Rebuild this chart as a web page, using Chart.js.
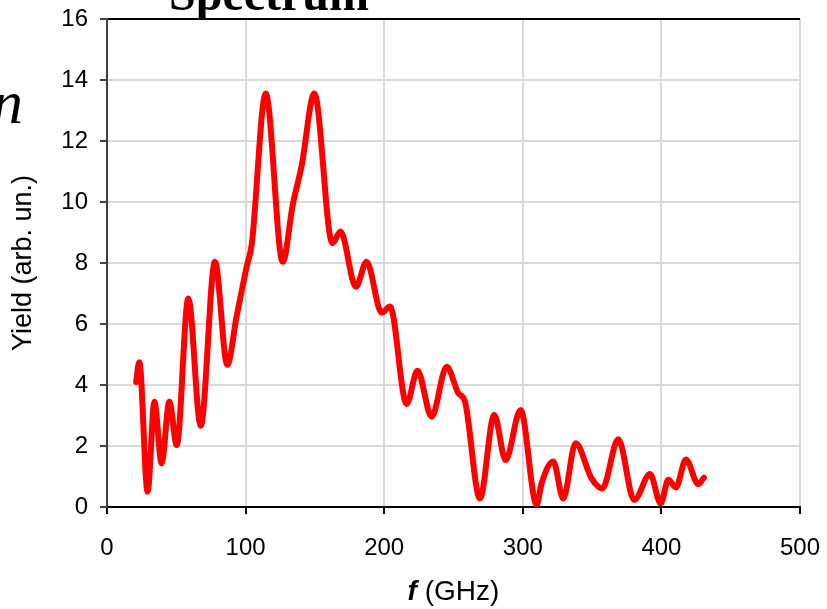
<!DOCTYPE html>
<html>
<head>
<meta charset="utf-8">
<script src="https://cdn.jsdelivr.net/npm/chart.js@4/dist/chart.umd.min.js"></script>
<style>
  html, body { margin: 0; padding: 0; background: #fff; }
  #wrap { width: 827px; height: 609px; position: relative; }
</style>
</head>
<body>
<div id="wrap"><canvas id="spectrumChart"></canvas></div>
<script>
// valores
const freqGHz = [21, 23.3, 29.3, 34.2, 39.4, 45, 50.3, 58.7, 67.6, 77.9,
  86.8, 93.5, 100.8, 104.4, 114.5, 126.8, 134, 140.5, 149.6, 162.6,
  168.5, 179.6, 187.3, 198.2, 204.2, 216.2, 224, 234.2, 245.1, 253.5,
  258.3, 269.1, 279.4, 287.6, 298.4, 310, 313.6, 322, 329.2, 338.1,
  349.6, 357.4, 368.9, 380.4, 391.8, 399.5, 405, 410.5, 417.7, 426.6,
  430.7];
const yieldArb = [4.1, 4.75, 0.5, 3.45, 1.43, 3.45, 2.03, 6.84, 2.66, 8.04,
  4.66, 6.24, 7.88, 8.6, 13.56, 8.04, 9.9, 11.2, 13.56, 8.65,
  9.03, 7.22, 8.04, 6.37, 6.57, 3.38, 4.47, 2.96, 4.6, 3.73,
  3.45, 0.28, 3.02, 1.54, 3.18, 0.07, 0.78, 1.49, 0.28, 2.09,
  0.94, 0.61, 2.22, 0.23, 1.08, 0.12, 0.89, 0.64, 1.56, 0.75,
  0.96];
const xTicks = [0, 100, 200, 300, 400, 500];
const yTicks = [0, 2, 4, 6, 8, 10, 12, 14, 16];

const points = freqGHz.map((f, i) => ({ x: f, y: yieldArb[i] }));

// textos fora do gráfico (título cortado, rótulos dos eixos)
const textPlugin = {
  id: "texts",
  afterDraw(chart) {
    const ctx = chart.ctx;
    const area = chart.chartArea;
    ctx.save();
    ctx.fillStyle = "#000";

    ctx.font = "bold 48px 'Liberation Serif', 'Times New Roman', serif";
    ctx.textAlign = "center";
    ctx.textBaseline = "alphabetic";
    ctx.fillText("Spectrum", 269, 10);

    ctx.font = "italic 62px 'Liberation Serif', 'Times New Roman', serif";
    ctx.textAlign = "right";
    ctx.fillText("n", 23, 123);

    // eixo y
    ctx.save();
    ctx.translate(24, (area.top + area.bottom) / 2);
    ctx.rotate(-Math.PI / 2);
    ctx.font = "27px 'Liberation Sans', Arial, sans-serif";
    ctx.textAlign = "center";
    ctx.textBaseline = "middle";
    ctx.fillText("Yield (arb. un.)", 0, 0);
    ctx.restore();

    // eixo x: "f" em negrito itálico
    const cx = (area.left + area.right) / 2;
    ctx.textBaseline = "middle";
    ctx.textAlign = "left";
    ctx.font = "bold italic 28px 'Liberation Sans', Arial, sans-serif";
    const wF = ctx.measureText("f").width;
    ctx.font = "28px 'Liberation Sans', Arial, sans-serif";
    const wRest = ctx.measureText(" (GHz)").width;
    const x0 = cx - (wF + wRest) / 2;
    ctx.font = "bold italic 28px 'Liberation Sans', Arial, sans-serif";
    ctx.fillText("f", x0, 592);
    ctx.font = "28px 'Liberation Sans', Arial, sans-serif";
    ctx.fillText(" (GHz)", x0 + wF, 592);
    ctx.restore();
  },
};

const ctx = document.getElementById("spectrumChart").getContext("2d");

new Chart(ctx, {
  type: "line",
  data: {
    datasets: [
      {
        data: points,
        borderColor: "#ff0000",
        borderWidth: 6,
        pointRadius: 0,
        fill: false,
        cubicInterpolationMode: "monotone",
        borderCapStyle: "round",
        borderJoinStyle: "round",
      },
    ],
  },
  options: {
    responsive: true,
    maintainAspectRatio: false,
    animation: false,
    layout: { padding: { top: 19, right: 27, left: 0, bottom: 0 } },
    plugins: {
      legend: { display: false },
      tooltip: { enabled: false },
    },
    scales: {
      x: {
        type: "linear",
        min: 0,
        max: 500,
        afterFit: (scale) => {
          scale.height = 102;
          scale.paddingLeft = 0;
          scale.paddingRight = 0;
        },
        afterBuildTicks: (scale) => {
          scale.ticks = xTicks.map((v) => ({ value: v }));
        },
        ticks: {
          color: "#000",
          padding: 20,
          maxRotation: 0,
          font: { family: "'Liberation Sans', Arial, sans-serif", size: 24 },
        },
        grid: {
          color: "#d9d9d9",
          lineWidth: 2,
          tickColor: "#000",
          tickLength: 7,
        },
        border: { color: "#000", width: 2 },
      },
      y: {
        type: "linear",
        min: 0,
        max: 16,
        afterFit: (scale) => {
          scale.width = 107;
          scale.paddingTop = 0;
          scale.paddingBottom = 0;
        },
        afterBuildTicks: (scale) => {
          scale.ticks = yTicks.map((v) => ({ value: v }));
        },
        ticks: {
          color: "#000",
          padding: 12,
          font: { family: "'Liberation Sans', Arial, sans-serif", size: 24 },
        },
        grid: {
          color: (c) => (c.tick && c.tick.value === 16 ? "#000" : "#d9d9d9"),
          lineWidth: 2,
          tickColor: "#404040",
          tickLength: 7,
        },
        border: { color: "#404040", width: 2 },
      },
    },
  },
  plugins: [textPlugin],
});
</script>
</body>
</html>
